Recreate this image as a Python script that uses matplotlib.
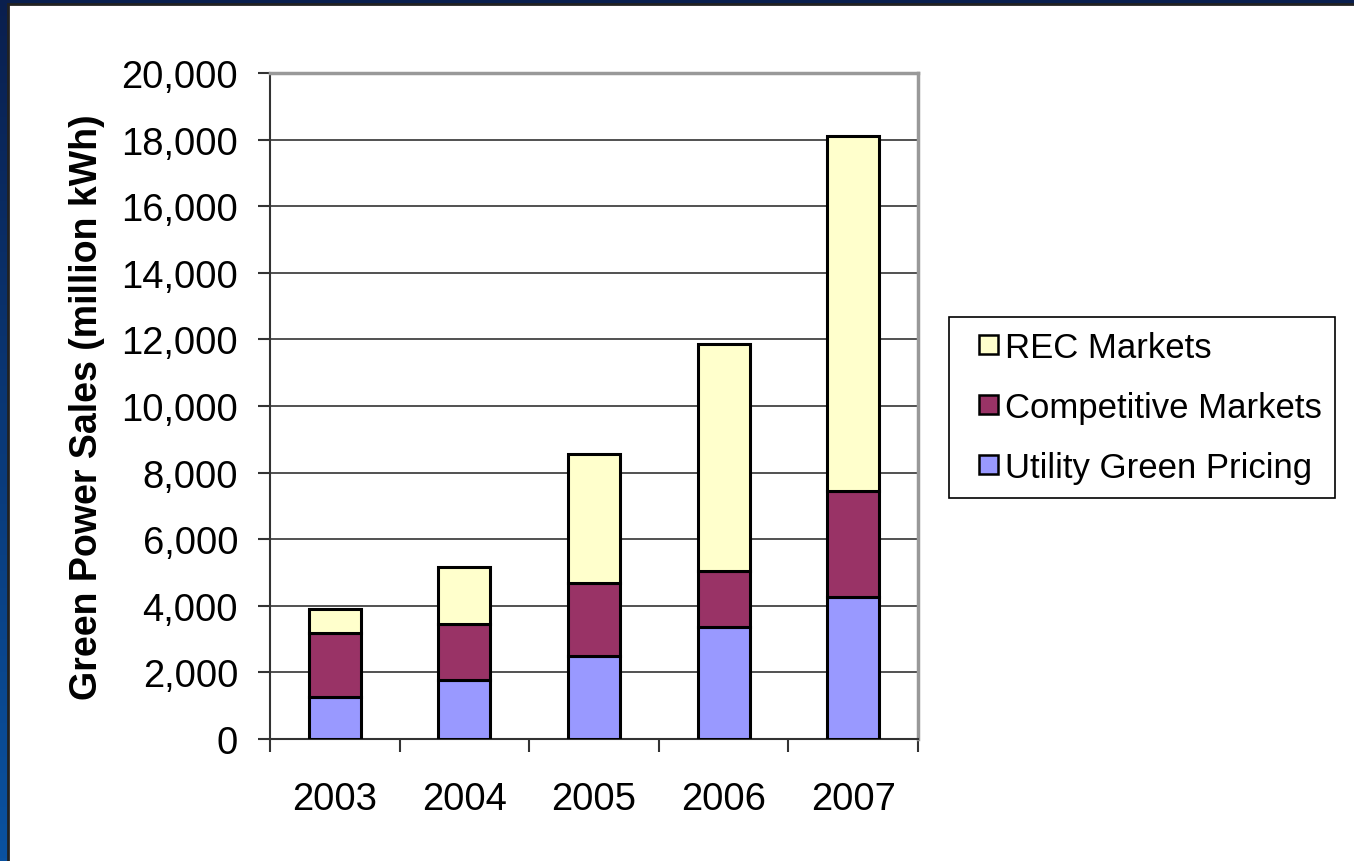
import numpy as np
import matplotlib
matplotlib.use('Agg')
import matplotlib.pyplot as plt
from matplotlib.patches import Rectangle
from matplotlib.legend_handler import HandlerPatch
from matplotlib.ticker import FuncFormatter, FixedLocator

# Chart data (million kWh)
years = ['2003', '2004', '2005', '2006', '2007']
utility_green_pricing = [1260, 1770, 2490, 3360, 4260]
competitive_markets = [1920, 1680, 2190, 1680, 3190]
rec_markets = [720, 1710, 3880, 6820, 10650]

plt.rcParams['font.family'] = ['Liberation Sans', 'DejaVu Sans']

fig = plt.figure(figsize=(13.54, 8.62), dpi=100)

# blue gradient frame behind the white slide
bg = fig.add_axes([0, 0, 1, 1], zorder=-10)
grad = np.linspace(0, 1, 256).reshape(-1, 1)
cmap = matplotlib.colors.LinearSegmentedColormap.from_list('frame', ['#0a1f4e', '#0b52a0'])
bg.imshow(grad, aspect='auto', cmap=cmap, extent=[0, 1, 0, 1], origin='upper')
bg.add_patch(Rectangle((8 / 1354, -0.01), 1.01, 1 - 5 / 862 + 0.01, facecolor='white',
                       edgecolor='#222222', linewidth=2))
bg.set_xlim(0, 1)
bg.set_ylim(0, 1)
bg.axis('off')

ax = fig.add_axes([270 / 1354, 1 - 740 / 862, 648 / 1354, 666 / 862])
x = np.arange(len(years))
w = 0.4
edge = dict(edgecolor='black', linewidth=2.2, zorder=3)
c1 = ax.bar(x, utility_green_pricing, w, color='#9999FF', **edge)
b1 = np.array(utility_green_pricing)
c2 = ax.bar(x, competitive_markets, w, bottom=b1, color='#993366', **edge)
b2 = b1 + np.array(competitive_markets)
c3 = ax.bar(x, rec_markets, w, bottom=b2, color='#FFFFCC', **edge)

ax.set_xlim(-0.5, 4.5)
ax.set_ylim(0, 20000)
ax.set_yticks(range(0, 20001, 2000))
ax.yaxis.set_major_formatter(FuncFormatter(lambda v, p: f'{int(v):,}'))
ax.yaxis.grid(True, color='#333333', linewidth=1.2, zorder=0)
ax.set_axisbelow(True)

ax.set_xticks(x)
ax.set_xticklabels(years)
ax.xaxis.set_minor_locator(FixedLocator(np.arange(-0.5, 5, 1)))
ax.tick_params(axis='x', which='major', length=0, pad=30, labelsize=27.5)
ax.tick_params(axis='x', which='minor', length=9, width=1.5, color='#333333')
ax.tick_params(axis='y', length=9, width=1.5, color='#333333', pad=14, labelsize=27.5)

for s in ['top', 'right']:
    ax.spines[s].set_color('#999999')
    ax.spines[s].set_linewidth(2.5)
for s in ['left', 'bottom']:
    ax.spines[s].set_color('#333333')
    ax.spines[s].set_linewidth(1.5)

ax.set_ylabel('Green Power Sales (million kWh)', fontsize=27, fontweight='bold', labelpad=12)


# small square marker sitting at the right of the handle box
def small_square(legend, orig_handle, xdescent, ydescent, width, height, fontsize):
    sq = 0.55 * fontsize
    return Rectangle((width - xdescent - sq, -ydescent + (height - sq) / 2), sq, sq)


handles = [c3.patches[0], c2.patches[0], c1.patches[0]]
labels = ['REC Markets', 'Competitive Markets', 'Utility Green Pricing']
leg = fig.legend(handles, labels, loc='upper left',
                 bbox_to_anchor=(949 / 1354, 1 - 318 / 862), fontsize=25,
                 frameon=True, fancybox=False, edgecolor='black', framealpha=1,
                 handlelength=1.0, handleheight=0.7, handletextpad=0.2,
                 labelspacing=0.78, borderpad=0.4, borderaxespad=0,
                 handler_map={Rectangle: HandlerPatch(patch_func=small_square)})
leg.get_frame().set_linewidth(1.2)
for h in leg.legend_handles:
    h.set_linewidth(1.8)

fig.savefig('out.png', dpi=100)
